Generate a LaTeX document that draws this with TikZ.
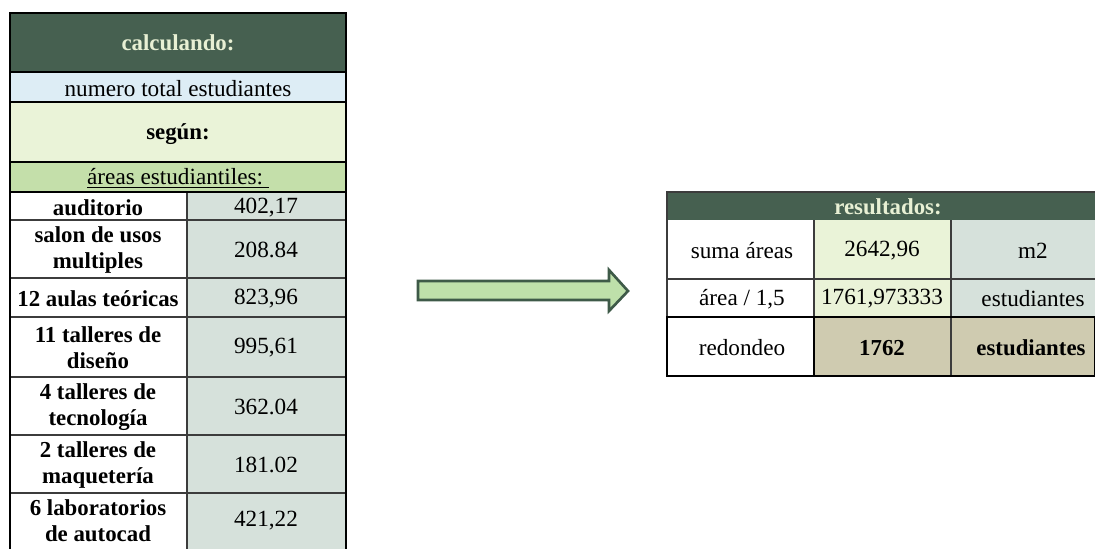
\documentclass[tikz,border=0pt]{standalone}
\usepackage{fontspec}
\setmainfont{Liberation Serif}
\usepackage{tikz}
\usetikzlibrary{calc}
\definecolor{hdrgreen}{RGB}{70, 96, 80}
\definecolor{hdrtext}{RGB}{232, 240, 212}
\definecolor{paleblue}{RGB}{221, 237, 245}
\definecolor{palegreen}{RGB}{234, 243, 216}
\definecolor{midgreen}{RGB}{196, 223, 170}
\definecolor{valgray}{RGB}{214, 225, 219}
\definecolor{tan}{RGB}{207, 203, 176}
\definecolor{gridgray}{RGB}{60, 60, 60}
\definecolor{arrowfill}{RGB}{190, 224, 170}
\definecolor{arrowedge}{RGB}{62, 90, 72}

\begin{document}
\begin{tikzpicture}[
    x = 0.02cm, y = -0.02cm,
    txt/.style = {font=\fontsize{13.2}{15}\selectfont, align=center, inner sep=0pt},
    btxt/.style = {txt, font=\fontsize{13}{15}\selectfont\bfseries},
    hd/.style = {btxt, text=hdrtext},
    thin/.style = {draw=gridgray, line width=0.7pt},
    thick/.style = {draw=black, line width=1.4pt},
]

\useasboundingbox (0,0) rectangle (1095,548);
\clip (0,0) rectangle (1095,548);

% left table
\fill[hdrgreen] (10,13) rectangle (346,72);
\fill[paleblue] (10,72) rectangle (346,102);
\fill[palegreen] (10,102) rectangle (346,162);
\fill[midgreen] (10,162) rectangle (346,192);
\fill[white] (10,192) rectangle (187,570);
\fill[valgray] (187,192) rectangle (346,570);

\foreach \y in {220, 278, 317, 377, 435, 493}
  \draw[thin] (10,\y) -- (346,\y);
\draw[thin] (187,192) -- (187,570);
\foreach \y in {72, 102, 162, 192}
  \draw[thick] (10,\y) -- (346,\y);
\draw[thick] (10,570) -- (10,13) -- (346,13) -- (346,570);

\node[hd] (cal) at (178,43) {calculando:};
\node[txt] (tot) at (178,89) {numero total estudiantes};
\node[btxt] (seg) at (178,134) {según:};
\node[txt] (areas) at (178,178) {\underline{áreas estudiantiles:\ }};

\foreach \nm/\y/\lbl/\val in {
    aud/208/auditorio/{402,17},
    sal/250/{salon de usos\\multiples}/{208.84},
    aul/299/{12 aulas teóricas}/{823,96},
    tdi/348/{11 talleres de\\diseño}/{995,61},
    tte/407/{4 talleres de\\tecnología}/{362.04},
    tma/465/{2 talleres de\\maquetería}/{181.02},
    lab/521/{6 laboratorios\\de autocad}/{421,22}}
{
  \node[btxt] (\nm) at (98,\y) {\lbl};
  \node[txt] (\nm-v) at (266,\y) {\val};
}

% arrow
\draw[line width=1.5pt, draw=arrowedge, fill=arrowfill, line join=miter]
  (418,281) -- (609,281) -- (609,270) -- (628,291) -- (609,311) -- (609,300) -- (418,300) -- cycle;

% right table
\fill[hdrgreen] (667,192) rectangle (1095,220);
\fill[white] (667,220) rectangle (814,376);
\fill[palegreen] (814,220) rectangle (951,317);
\fill[valgray] (951,220) rectangle (1095,317);
\fill[tan] (814,317) rectangle (1095,376);

\draw[thin] (667,279) -- (1095,279);
\draw[thin] (814,220) -- (814,317);
\draw[thin] (951,220) -- (951,376);
\draw[thin] (1095,192) -- (667,192) -- (667,317);
\draw[thick] (667,317) rectangle (1095,376);
\draw[thick] (814,317) -- (814,376);

\node[hd] (res) at (888,207) {resultados:};
\node[txt] (suma) at (742,251) {suma áreas};
\node[txt] (suma-v) at (882,251) {2642,96};
\node[txt] (suma-u) at (1033,251) {m2};
\node[txt] (div) at (742,299) {área / 1,5};
\node[txt] (div-v) at (882,299) {1761,973333};
\node[txt] (div-u) at (1033,299) {estudiantes};
\node[txt] (red) at (742,348) {redondeo};
\node[btxt] (red-v) at (882,348) {1762};
\node[btxt] (red-u) at (1031,348) {estudiantes};

\end{tikzpicture}
\end{document}
